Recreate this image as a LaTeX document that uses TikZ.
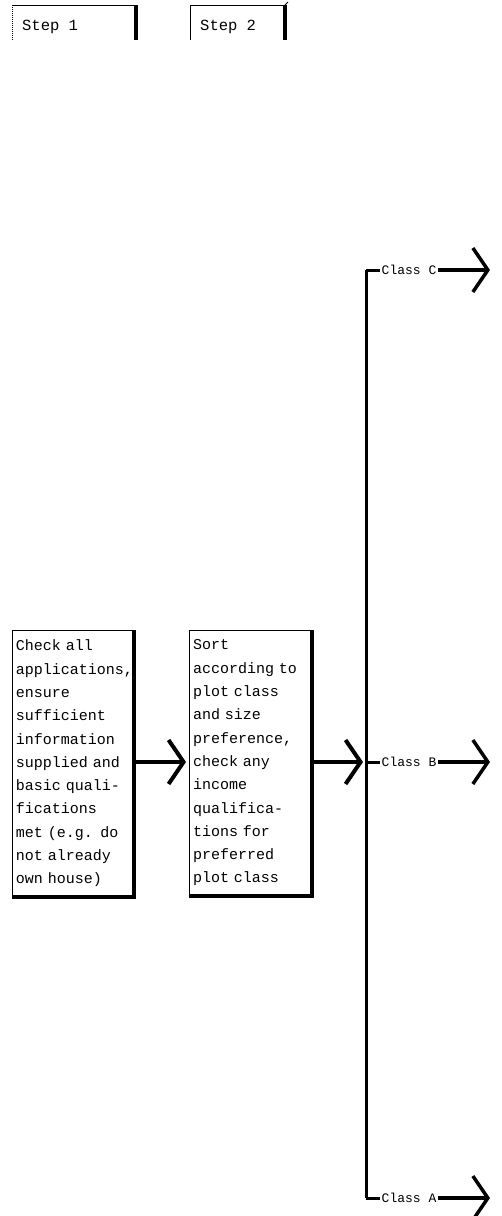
\documentclass[tikz,border=0pt]{standalone}
\usepackage{fontspec}
\setmainfont{Liberation Mono}
\usetikzlibrary{arrows.meta,positioning}
\tikzset{
  boxtext/.style={draw, line width=1pt, align=left, text width=114pt, inner xsep=3.5pt, inner ysep=6pt, font=\fontsize{15}{23.3}\selectfont, anchor=north west},
  shadowline/.style={line width=3.5pt},
  bigarrow/.style={line width=4pt, -{Straight Barb[length=15pt,width=44pt]}},
  classlabel/.style={font=\fontsize{13}{15}\selectfont, inner sep=1.5pt},
  stublabel/.style={font=\fontsize{15.5}{17}\selectfont, inner sep=0pt, anchor=west},
  rail/.style={line width=3pt},
  thinline/.style={line width=1pt}
}
\begin{document}
\begin{tikzpicture}[x=1pt,y=-1pt]
\useasboundingbox (0,0) rectangle (502,1216);
% step headers
\node[stublabel] (s1) at (22,27) {Step 1};
\node[stublabel] (s2) at (200,27) {Step 2};
\coordinate (s1tl) at (12,5);
\coordinate (s1tr) at (136,5);
\coordinate (s1bl) at (12,40);
\coordinate (s1br) at (136,40);
\draw[thinline] (s1tl) -- (s1tr);
\draw[thinline, densely dotted] (s1tl) -- (s1bl);
\draw[shadowline] (s1tr) -- (s1br);
\coordinate (s2tl) at (190,5);
\coordinate (s2tr) at (285,5);
\coordinate (s2bl) at (190,40);
\coordinate (s2br) at (285,40);
\draw[thinline] (s2tl) -- (s2tr);
\draw[thinline] (s2tl) -- (s2bl);
\draw[shadowline] (s2tr) -- (s2br);
\draw[thinline] (285,5) -- (288,2);
% boxes
\node[boxtext, minimum height=266pt] (b1) at (12,630) {Check all\\applications,\\ensure\\sufficient\\information\\supplied and\\basic quali-\\fications\\met (e.g. do\\not already\\own house)};
\draw[shadowline] (b1.north east) -- (b1.south east) -- (b1.south west);
\node[boxtext, minimum height=265pt, text width=115pt] (b2) at (189,630) {Sort\\according to\\plot class\\and size\\preference,\\check any\\income\\qualifica-\\tions for\\preferred\\plot class};
\draw[shadowline] (b2.north east) -- (b2.south east) -- (b2.south west);
% rail
\coordinate (rc) at (366,270);
\coordinate (rb) at (366,762);
\coordinate (ra) at (366,1198);
\draw[rail] (rc) -- (ra);
% arrows between boxes
\draw[bigarrow, shorten >=3pt] (b1.east |- rb) -- (b2.west |- rb);
\draw[bigarrow, shorten >=3pt] (b2.east |- rb) -- (rb);
% class outputs
\node[classlabel, anchor=west] (cc) at (380,270) {Class C};
\node[classlabel, anchor=west] (cb) at (380,762) {Class B};
\node[classlabel, anchor=west] (ca) at (380,1198) {Class A};
\coordinate (ec) at (490,270);
\coordinate (eb) at (490,762);
\coordinate (ea) at (490,1198);
\draw[rail] (rc) -- (cc.west);
\draw[rail] (rb) -- (cb.west);
\draw[rail] (ra) -- (ca.west);
\draw[bigarrow, line width=3.5pt] (cc.east) -- (ec);
\draw[bigarrow, line width=3.5pt] (cb.east) -- (eb);
\draw[bigarrow, line width=3.5pt] (ca.east) -- (ea);
\end{tikzpicture}
\end{document}
